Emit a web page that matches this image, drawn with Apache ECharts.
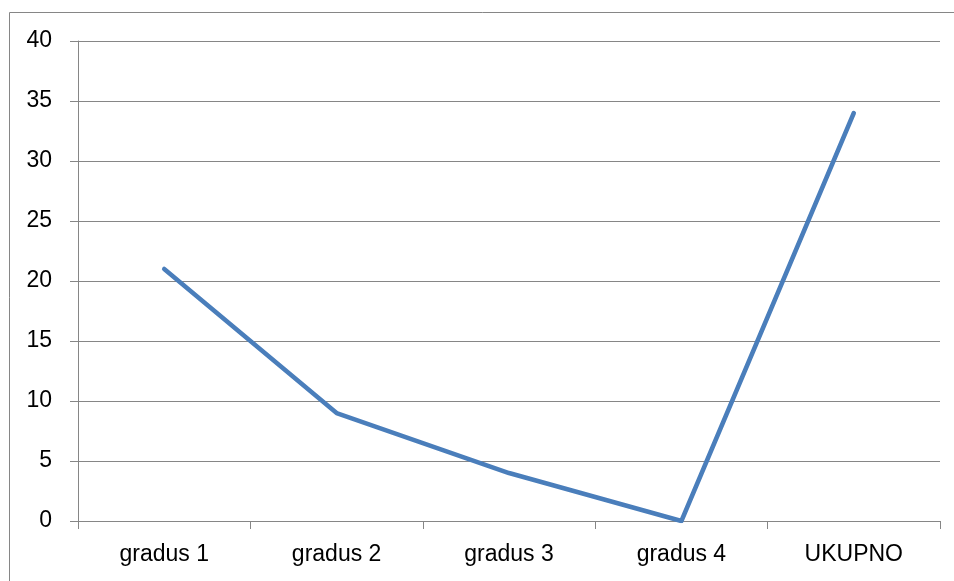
<!DOCTYPE html>
<html><head><meta charset="utf-8">
<style>html,body{margin:0;padding:0;background:#fff;}#c{width:954px;height:581px;}</style>
<script src="https://cdn.jsdelivr.net/npm/echarts@6/dist/echarts.min.js"></script>
</head><body><div id="c"></div>
<script>
const categories = ['gradus 1', 'gradus 2', 'gradus 3', 'gradus 4', 'UKUPNO'];
const values = [21, 9, 4, 0, 34];
const yTicks = { min: 0, max: 40, interval: 5 };

const chart = echarts.init(document.getElementById('c'), null, { renderer: 'canvas' });
const font = 'Liberation Sans, Arial, sans-serif';
chart.setOption({
  animation: false,
  graphic: [{
    type: 'rect', shape: { x: 9.5, y: 12.5, width: 1000, height: 1000 },
    style: { fill: 'none', stroke: '#868686', lineWidth: 1 }, silent: true
  }],
  grid: { left: 78, right: 14, top: 41, bottom: 60, containLabel: false },
  xAxis: {
    type: 'category', data: categories, boundaryGap: true,
    axisLine: { lineStyle: { color: '#868686', width: 1 } },
    axisTick: { show: true, length: 8, lineStyle: { color: '#868686' } },
    axisLabel: { color: '#000', fontSize: 23, fontFamily: font, margin: 22 }
  },
  yAxis: {
    type: 'value', min: yTicks.min, max: yTicks.max, interval: yTicks.interval,
    axisLine: { show: true, lineStyle: { color: '#868686', width: 1 } },
    axisTick: { show: true, length: 8, lineStyle: { color: '#868686' } },
    splitLine: { lineStyle: { color: '#868686', width: 1 } },
    axisLabel: { color: '#000', fontSize: 23, fontFamily: font, margin: 26 }
  },
  series: [{
    type: 'line', data: values, symbol: 'none',
    lineStyle: { color: '#4A7EBB', width: 4.5, cap: 'round', join: 'round' }
  }]
});
</script></body></html>
